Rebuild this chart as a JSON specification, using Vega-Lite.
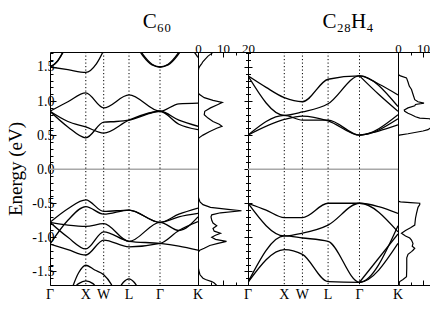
{
"$schema": "https://vega.github.io/schema/vega-lite/v6.json",
"padding": {"left": 6, "top": 10, "right": 0, "bottom": 0},
"spacing": 0,
"bounds": "flush",
"config": {"view": {"stroke": "black", "strokeWidth": 1}, "font": "Liberation Serif",
  "axis": {"labelFont": "Liberation Serif", "titleFont": "Liberation Serif", "labelColor": "black", "tickColor": "black", "domainColor": "black", "grid": false, "titleColor": "black", "labelOverlap": false, "labelFlush": false},
  "title": {"font": "Liberation Serif", "fontWeight": "normal", "color": "black"}},
"datasets": {
 "kp": [{"k": 1}, {"k": 1.5}, {"k": 2.207}, {"k": 3.073}],
 "kl": [{"k": 0, "lab": "Γ"}, {"k": 1, "lab": "X"}, {"k": 1.5, "lab": "W"}, {"k": 2.207, "lab": "L"}, {"k": 3.073, "lab": "Γ"}, {"k": 4.134, "lab": "K"}],
 "zero": [{"E": 0}],
 "c60": [
  {"b":"c1","k":0,"E":0.85},{"b":"c1","k":0.5,"E":0.99},{"b":"c1","k":1,"E":1.12},{"b":"c1","k":1.5,"E":0.9},{"b":"c1","k":2.207,"E":1.09},{"b":"c1","k":3.073,"E":0.85},{"b":"c1","k":3.6,"E":0.96},{"b":"c1","k":4.134,"E":0.97},
  {"b":"c2","k":0,"E":0.85},{"b":"c2","k":0.5,"E":0.7},{"b":"c2","k":1,"E":0.62},{"b":"c2","k":1.5,"E":0.53},{"b":"c2","k":2.207,"E":0.72},{"b":"c2","k":3.073,"E":0.85},{"b":"c2","k":3.6,"E":0.72},{"b":"c2","k":4.134,"E":0.63},
  {"b":"c3","k":0,"E":0.85},{"b":"c3","k":0.5,"E":0.62},{"b":"c3","k":1,"E":0.46},{"b":"c3","k":1.5,"E":0.69},{"b":"c3","k":1.85,"E":0.7},{"b":"c3","k":2.207,"E":0.72},{"b":"c3","k":3.073,"E":0.85},{"b":"c3","k":3.6,"E":0.66},{"b":"c3","k":4.134,"E":0.58},
  {"b":"u1","k":0,"E":1.5},{"b":"u1","k":0.5,"E":1.46},{"b":"u1","k":1,"E":1.42},{"b":"u1","k":1.3,"E":1.55},{"b":"u1","k":1.55,"E":1.8},
  {"b":"u2","k":0,"E":1.5},{"b":"u2","k":0.15,"E":1.55},{"b":"u2","k":0.3,"E":1.66},{"b":"u2","k":0.42,"E":1.8},
  {"b":"u3","k":0,"E":1.5},{"b":"u3","k":0.2,"E":1.58},{"b":"u3","k":0.35,"E":1.7},{"b":"u3","k":0.47,"E":1.8},
  {"b":"u4","k":2.4,"E":1.85},{"b":"u4","k":2.6,"E":1.68},{"b":"u4","k":2.85,"E":1.54},{"b":"u4","k":3.073,"E":1.5},{"b":"u4","k":3.3,"E":1.54},{"b":"u4","k":3.55,"E":1.68},{"b":"u4","k":3.75,"E":1.85},
  {"b":"u5","k":2.4,"E":1.82},{"b":"u5","k":2.6,"E":1.66},{"b":"u5","k":2.85,"E":1.53},{"b":"u5","k":3.073,"E":1.5},{"b":"u5","k":3.3,"E":1.53},{"b":"u5","k":3.55,"E":1.66},{"b":"u5","k":3.75,"E":1.82},
  {"b":"u6","k":3.95,"E":1.78},{"b":"u6","k":4.134,"E":1.64},
  {"b":"v1","k":0,"E":-0.78},{"b":"v1","k":0.5,"E":-0.58},{"b":"v1","k":1,"E":-0.45},{"b":"v1","k":1.5,"E":-0.62},{"b":"v1","k":2.207,"E":-0.6},{"b":"v1","k":3.073,"E":-0.78},{"b":"v1","k":3.6,"E":-0.66},{"b":"v1","k":4.134,"E":-0.57},
  {"b":"v2","k":0,"E":-1.1},{"b":"v2","k":0.5,"E":-0.75},{"b":"v2","k":1,"E":-0.55},{"b":"v2","k":1.5,"E":-0.66},{"b":"v2","k":2.207,"E":-0.6},{"b":"v2","k":3.073,"E":-0.78},{"b":"v2","k":3.6,"E":-0.7},{"b":"v2","k":4.134,"E":-0.65},
  {"b":"v3","k":0,"E":-0.78},{"b":"v3","k":0.5,"E":-0.82},{"b":"v3","k":1,"E":-0.84},{"b":"v3","k":1.5,"E":-0.8},{"b":"v3","k":2.207,"E":-1.06},{"b":"v3","k":3.073,"E":-0.78},{"b":"v3","k":3.6,"E":-0.9},{"b":"v3","k":4.134,"E":-0.7},
  {"b":"v4","k":0,"E":-0.78},{"b":"v4","k":0.5,"E":-1.0},{"b":"v4","k":1,"E":-1.17},{"b":"v4","k":1.5,"E":-0.92},{"b":"v4","k":2.207,"E":-1.06},{"b":"v4","k":3.073,"E":-1.09},{"b":"v4","k":3.6,"E":-1.13},{"b":"v4","k":4.134,"E":-1.19},
  {"b":"v5","k":0,"E":-1.1},{"b":"v5","k":0.5,"E":-1.18},{"b":"v5","k":1,"E":-1.26},{"b":"v5","k":1.5,"E":-1.04},{"b":"v5","k":2.207,"E":-1.14},{"b":"v5","k":3.073,"E":-1.09},{"b":"v5","k":3.6,"E":-0.9},{"b":"v5","k":4.134,"E":-0.77},
  {"b":"l1","k":0.55,"E":-1.85},{"b":"l1","k":0.8,"E":-1.52},{"b":"l1","k":1,"E":-1.41},{"b":"l1","k":1.25,"E":-1.48},{"b":"l1","k":1.5,"E":-1.55},{"b":"l1","k":1.7,"E":-1.68},{"b":"l1","k":1.85,"E":-1.85},
  {"b":"l2","k":0.6,"E":-1.78},{"b":"l2","k":0.8,"E":-1.68},{"b":"l2","k":1,"E":-1.64},{"b":"l2","k":1.2,"E":-1.68},{"b":"l2","k":1.35,"E":-1.78},
  {"b":"l3","k":1.9,"E":-1.78},{"b":"l3","k":2.05,"E":-1.66},{"b":"l3","k":2.207,"E":-1.61},{"b":"l3","k":2.35,"E":-1.66},{"b":"l3","k":2.5,"E":-1.78}
 ],
 "c28": [
  {"b":"a1","k":0,"E":1.37},{"b":"a1","k":0.5,"E":1.2},{"b":"a1","k":1,"E":1.05},{"b":"a1","k":1.5,"E":0.99},{"b":"a1","k":2.207,"E":1.32},{"b":"a1","k":3.073,"E":1.37},{"b":"a1","k":3.6,"E":1.25},{"b":"a1","k":4.134,"E":1.09},
  {"b":"a2","k":0,"E":1.37},{"b":"a2","k":1,"E":0.79},{"b":"a2","k":1.5,"E":0.84},{"b":"a2","k":2.207,"E":0.96},{"b":"a2","k":3.073,"E":1.37},{"b":"a2","k":4.134,"E":0.92},
  {"b":"a3","k":3.073,"E":1.37},{"b":"a3","k":3.6,"E":1.1},{"b":"a3","k":4.134,"E":0.85},
  {"b":"a4","k":0,"E":0.5},{"b":"a4","k":1,"E":0.79},{"b":"a4","k":1.5,"E":0.72},{"b":"a4","k":2.207,"E":0.72},{"b":"a4","k":3.073,"E":0.5},{"b":"a4","k":4.134,"E":0.8},
  {"b":"a5","k":0,"E":0.5},{"b":"a5","k":1,"E":0.73},{"b":"a5","k":1.5,"E":0.78},{"b":"a5","k":2.207,"E":0.71},{"b":"a5","k":3.073,"E":0.5},{"b":"a5","k":4.134,"E":0.74},
  {"b":"a6","k":3.073,"E":0.5},{"b":"a6","k":3.6,"E":0.56},{"b":"a6","k":4.134,"E":0.65},
  {"b":"w1","k":0,"E":-0.5},{"b":"w1","k":0.5,"E":-0.6},{"b":"w1","k":1,"E":-0.71},{"b":"w1","k":1.5,"E":-0.71},{"b":"w1","k":2.207,"E":-0.5},{"b":"w1","k":3.073,"E":-0.5},{"b":"w1","k":3.6,"E":-0.55},{"b":"w1","k":4.134,"E":-0.65},
  {"b":"w2","k":0,"E":-0.5},{"b":"w2","k":1,"E":-0.98},{"b":"w2","k":1.5,"E":-0.94},{"b":"w2","k":2.207,"E":-0.82},{"b":"w2","k":3.073,"E":-0.5},{"b":"w2","k":4.134,"E":-0.92},
  {"b":"w3","k":0,"E":-1.66},{"b":"w3","k":1,"E":-0.98},{"b":"w3","k":1.5,"E":-1.01},{"b":"w3","k":2.207,"E":-1.06},{"b":"w3","k":3.073,"E":-1.66},{"b":"w3","k":4.134,"E":-0.83},
  {"b":"w4","k":0,"E":-1.66},{"b":"w4","k":1,"E":-1.18},{"b":"w4","k":1.5,"E":-1.25},{"b":"w4","k":2.207,"E":-1.65},{"b":"w4","k":3.073,"E":-1.66},{"b":"w4","k":4.134,"E":-1.09},
  {"b":"w5","k":3.073,"E":-1.66},{"b":"w5","k":4.134,"E":-0.95}
 ],
 "d60": [
  {"E":-1.72,"dos":7.8},{"E":-1.7,"dos":7.3},{"E":-1.67,"dos":6.5},{"E":-1.65,"dos":5.5},{"E":-1.62,"dos":3},{"E":-1.6,"dos":2},{"E":-1.55,"dos":0.8},{"E":-1.48,"dos":0.3},{"E":-1.42,"dos":0},{"E":-1.22,"dos":0},{"E":-1.19,"dos":0.7},{"E":-1.16,"dos":2.5},{"E":-1.12,"dos":4.7},{"E":-1.09,"dos":8},{"E":-1.06,"dos":11.4},{"E":-1.03,"dos":7},{"E":-1.0,"dos":5.5},{"E":-0.97,"dos":7},{"E":-0.94,"dos":9},{"E":-0.91,"dos":6.5},{"E":-0.87,"dos":6},{"E":-0.83,"dos":7.5},{"E":-0.79,"dos":6},{"E":-0.75,"dos":5.5},{"E":-0.7,"dos":5.2},{"E":-0.67,"dos":5.5},{"E":-0.64,"dos":9},{"E":-0.61,"dos":17.4},{"E":-0.59,"dos":12},{"E":-0.56,"dos":5},{"E":-0.52,"dos":2},{"E":-0.48,"dos":0.8},{"E":-0.42,"dos":0.2},{"E":-0.38,"dos":0},
  {"E":0.44,"dos":0},{"E":0.46,"dos":0.4},{"E":0.5,"dos":2},{"E":0.55,"dos":4.5},{"E":0.6,"dos":7.5},{"E":0.63,"dos":9.6},{"E":0.66,"dos":8.5},{"E":0.7,"dos":6},{"E":0.75,"dos":4},{"E":0.8,"dos":2.5},{"E":0.85,"dos":2.7},{"E":0.9,"dos":5},{"E":0.95,"dos":8},{"E":0.98,"dos":9.7},{"E":1.01,"dos":6},{"E":1.05,"dos":2.5},{"E":1.1,"dos":0.5},{"E":1.13,"dos":0},{"E":1.42,"dos":0},{"E":1.48,"dos":0.3},{"E":1.51,"dos":0.7},{"E":1.55,"dos":1.5},{"E":1.58,"dos":2},{"E":1.62,"dos":3},{"E":1.66,"dos":4},{"E":1.7,"dos":5.5},{"E":1.72,"dos":6}
 ],
 "d28": [
  {"E":-1.72,"dos":0.5},{"E":-1.67,"dos":0.5},{"E":-1.65,"dos":0.7},{"E":-1.62,"dos":2},{"E":-1.58,"dos":3.4},{"E":-1.45,"dos":3.5},{"E":-1.3,"dos":3.5},{"E":-1.25,"dos":4},{"E":-1.21,"dos":5.4},{"E":-1.19,"dos":6},{"E":-1.16,"dos":6.7},{"E":-1.13,"dos":5.7},{"E":-1.09,"dos":6},{"E":-1.04,"dos":5.4},{"E":-1.01,"dos":4.7},{"E":-0.98,"dos":3},{"E":-0.94,"dos":1.4},{"E":-0.9,"dos":3},{"E":-0.86,"dos":5},{"E":-0.82,"dos":6.7},{"E":-0.72,"dos":7},{"E":-0.65,"dos":7.4},{"E":-0.56,"dos":8},{"E":-0.52,"dos":8.7},{"E":-0.5,"dos":8.7},{"E":-0.49,"dos":5},{"E":-0.48,"dos":1},{"E":-0.47,"dos":0},
  {"E":0.49,"dos":0},{"E":0.5,"dos":0.5},{"E":0.52,"dos":4},{"E":0.56,"dos":10},{"E":0.58,"dos":12},{"E":0.62,"dos":13.5},{"E":0.7,"dos":13.5},{"E":0.74,"dos":12.7},{"E":0.75,"dos":8.7},{"E":0.77,"dos":7},{"E":0.8,"dos":5.4},{"E":0.82,"dos":4},{"E":0.85,"dos":2.7},{"E":0.87,"dos":2.5},{"E":0.9,"dos":4},{"E":0.93,"dos":6.7},{"E":0.95,"dos":7},{"E":0.97,"dos":10.4},{"E":0.99,"dos":8},{"E":1.02,"dos":6.7},{"E":1.1,"dos":6},{"E":1.17,"dos":5.4},{"E":1.22,"dos":4.5},{"E":1.28,"dos":4},{"E":1.34,"dos":3.4},{"E":1.37,"dos":1},{"E":1.39,"dos":0},{"E":1.72,"dos":0}
 ]
},
"hconcat": [
 {
  "width": 148, "height": 233,
  "title": {"text": "C\u2086\u2080", "fontSize": 21, "dx": 33, "offset": 20, "anchor": "middle"},
  "layer": [
   {"data": {"name": "c60"}, "mark": {"type": "line", "color": "black", "strokeWidth": 1.3, "interpolate": "monotone", "clip": true},
    "encoding": {
     "x": {"field": "k", "type": "quantitative", "scale": {"domain": [0, 4.134], "nice": false, "zero": false}, "axis": null},
     "y": {"field": "E", "type": "quantitative", "scale": {"domain": [-1.7, 1.72], "nice": false, "zero": false},
       "axis": {"orient": "left", "values": [-1.5, -1.0, -0.5, 0, 0.5, 1.0, 1.5],
        "labelExpr": "replace(format(datum.value, '.1f'), '\u2212', '-')",
        "tickSize": -6,
        "domain": false, "title": "Energy (eV)", "titleFontSize": 19, "titleFontWeight": "normal", "titlePadding": 6, "labelFontSize": 14, "labelPadding": 2, "labelOverlap": false}},
     "detail": {"field": "b", "type": "nominal"}}},
   {"data": {"name": "zero"}, "mark": {"type": "rule", "color": "#a8a8a8", "strokeWidth": 1.5},
    "encoding": {"y": {"field": "E", "type": "quantitative",
     "axis": {"orient": "left", "values": [-1.7,-1.6,-1.4,-1.3,-1.2,-1.1,-0.9,-0.8,-0.7,-0.6,-0.4,-0.3,-0.2,-0.1,0.1,0.2,0.3,0.4,0.6,0.7,0.8,0.9,1.1,1.2,1.3,1.4,1.6,1.7], "labels": false, "tickSize": -3, "domain": false, "title": null}}}},
   {"data": {"name": "kp"}, "mark": {"type": "rule", "color": "black", "strokeWidth": 1, "strokeDash": [1.2, 2.3]}, "encoding": {"x": {"field": "k", "type": "quantitative"}}},
   {"data": {"name": "kl"}, "mark": {"type": "text", "font": "Liberation Serif", "fontSize": 14, "baseline": "middle", "align": "center", "dy": 10, "color": "black", "clip": false},
    "encoding": {"x": {"field": "k", "type": "quantitative"}, "y": {"datum": -1.7, "type": "quantitative", "axis": null}, "text": {"field": "lab", "type": "nominal"}}}
  ],
  "resolve": {"axis": {"y": "independent"}}
 },
 {
  "width": 50, "height": 233,
  "layer": [
   {"data": {"name": "d60"}, "mark": {"type": "line", "color": "black", "strokeWidth": 1.2, "clip": true},
    "encoding": {
     "x": {"field": "dos", "type": "quantitative", "scale": {"domain": [0, 20], "nice": false},
       "axis": {"orient": "top", "values": [0, 10, 20], "tickSize": -5, "domain": false, "labelFontSize": 13, "labelPadding": 2, "title": null, "labelOverlap": false, "labelFlush": false}},
     "y": {"field": "E", "type": "quantitative", "scale": {"domain": [-1.7, 1.72], "nice": false, "zero": false},
       "axis": {"orient": "right", "values": [-1.5, -1.0, -0.5, 0, 0.5, 1.0, 1.5], "labels": false, "tickSize": 4, "domain": false, "title": null}},
     "order": {"field": "E", "type": "quantitative"}}},
   {"data": {"name": "d60"}, "mark": {"type": "line", "opacity": 0},
    "encoding": {
     "x": {"field": "dos", "type": "quantitative", "axis": {"orient": "bottom", "values": [10], "labels": false, "tickSize": -5, "domain": false, "title": null}},
     "y": {"field": "E", "type": "quantitative", "axis": {"orient": "right", "values": [-1.7,-1.6,-1.4,-1.3,-1.2,-1.1,-0.9,-0.8,-0.7,-0.6,-0.4,-0.3,-0.2,-0.1,0.1,0.2,0.3,0.4,0.6,0.7,0.8,0.9,1.1,1.2,1.3,1.4,1.6,1.7], "labels": false, "tickSize": 2.5, "domain": false, "title": null}},
     "order": {"field": "E", "type": "quantitative"}}},
   {"data": {"name": "d60"}, "mark": {"type": "line", "opacity": 0},
    "encoding": {
     "x": {"field": "dos", "type": "quantitative", "axis": {"orient": "top", "values": [5, 15], "labels": false, "tickSize": -3, "domain": false, "title": null}},
     "y": {"field": "E", "type": "quantitative", "axis": null},
     "order": {"field": "E", "type": "quantitative"}}},
   {"data": {"name": "d60"}, "mark": {"type": "line", "opacity": 0},
    "encoding": {
     "x": {"field": "dos", "type": "quantitative", "axis": {"orient": "bottom", "values": [5, 15], "labels": false, "tickSize": -3, "domain": false, "title": null}},
     "y": {"field": "E", "type": "quantitative", "axis": null},
     "order": {"field": "E", "type": "quantitative"}}}
  ],
  "resolve": {"axis": {"x": "independent", "y": "independent"}}
 },
 {
  "width": 150, "height": 233,
  "title": {"text": "C\u2082\u2088H\u2084", "fontSize": 21, "dx": 25, "offset": 20, "anchor": "middle"},
  "layer": [
   {"data": {"name": "c28"}, "mark": {"type": "line", "color": "black", "strokeWidth": 1.3, "interpolate": "monotone", "clip": true},
    "encoding": {
     "x": {"field": "k", "type": "quantitative", "scale": {"domain": [0, 4.134], "nice": false, "zero": false}, "axis": null},
     "y": {"field": "E", "type": "quantitative", "scale": {"domain": [-1.7, 1.72], "nice": false, "zero": false},
       "axis": {"orient": "left", "values": [-1.5, -1.0, -0.5, 0, 0.5, 1.0, 1.5], "labels": false, "tickSize": 4, "domain": false, "title": null}},
     "detail": {"field": "b", "type": "nominal"}}},
   {"data": {"name": "zero"}, "mark": {"type": "rule", "color": "#a8a8a8", "strokeWidth": 1.5},
    "encoding": {"y": {"field": "E", "type": "quantitative",
     "axis": {"orient": "left", "values": [-1.7,-1.6,-1.4,-1.3,-1.2,-1.1,-0.9,-0.8,-0.7,-0.6,-0.4,-0.3,-0.2,-0.1,0.1,0.2,0.3,0.4,0.6,0.7,0.8,0.9,1.1,1.2,1.3,1.4,1.6,1.7], "labels": false, "tickSize": 2.5, "domain": false, "title": null}}}},
   {"data": {"name": "kp"}, "mark": {"type": "rule", "color": "black", "strokeWidth": 1, "strokeDash": [1.2, 2.3]}, "encoding": {"x": {"field": "k", "type": "quantitative"}}},
   {"data": {"name": "kl"}, "mark": {"type": "text", "font": "Liberation Serif", "fontSize": 14, "baseline": "middle", "align": "center", "dy": 10, "color": "black", "clip": false},
    "encoding": {"x": {"field": "k", "type": "quantitative"}, "y": {"datum": -1.7, "type": "quantitative", "axis": null}, "text": {"field": "lab", "type": "nominal"}}}
  ],
  "resolve": {"axis": {"y": "independent"}}
 },
 {
  "width": 32, "height": 233,
  "view": {"stroke": null},
  "layer": [
   {"data": {"name": "d28"}, "mark": {"type": "line", "color": "black", "strokeWidth": 1.2, "clip": true},
    "encoding": {
     "x": {"field": "dos", "type": "quantitative", "scale": {"domain": [0, 12.8], "nice": false},
       "axis": {"orient": "top", "values": [0, 10], "tickSize": -5, "domain": true, "domainWidth": 1, "labelFontSize": 13, "labelPadding": 2, "title": null, "labelOverlap": false, "labelFlush": false}},
     "y": {"field": "E", "type": "quantitative", "scale": {"domain": [-1.7, 1.72], "nice": false, "zero": false}, "axis": null},
     "order": {"field": "E", "type": "quantitative"}}},
   {"data": {"name": "d28"}, "mark": {"type": "line", "opacity": 0},
    "encoding": {
     "x": {"field": "dos", "type": "quantitative", "axis": {"orient": "bottom", "values": [10], "labels": false, "tickSize": -5, "domain": true, "title": null}},
     "y": {"field": "E", "type": "quantitative", "axis": null},
     "order": {"field": "E", "type": "quantitative"}}},
   {"data": {"name": "d28"}, "mark": {"type": "line", "opacity": 0},
    "encoding": {
     "x": {"field": "dos", "type": "quantitative", "axis": {"orient": "top", "values": [5], "labels": false, "tickSize": -3, "domain": false, "title": null}},
     "y": {"field": "E", "type": "quantitative", "axis": null},
     "order": {"field": "E", "type": "quantitative"}}},
   {"data": {"name": "d28"}, "mark": {"type": "line", "opacity": 0},
    "encoding": {
     "x": {"field": "dos", "type": "quantitative", "axis": {"orient": "bottom", "values": [5], "labels": false, "tickSize": -3, "domain": false, "title": null}},
     "y": {"field": "E", "type": "quantitative", "axis": null},
     "order": {"field": "E", "type": "quantitative"}}}
  ],
  "resolve": {"axis": {"x": "independent", "y": "independent"}}
 }
],
"resolve": {"scale": {"x": "independent", "y": "independent"}}
}
